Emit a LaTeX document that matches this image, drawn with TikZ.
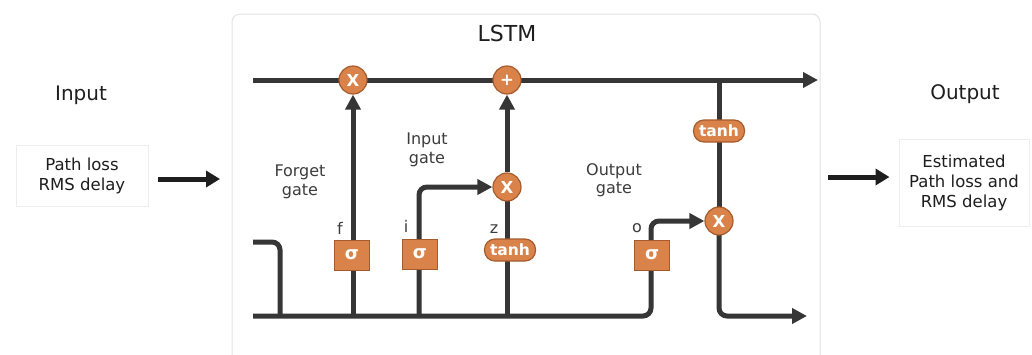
\documentclass[tikz,border=0pt]{standalone}
\usepackage{fontspec}
\setmainfont{DejaVu Sans}
\usetikzlibrary{arrows.meta,backgrounds}
\definecolor{wirec}{HTML}{363636}
\definecolor{opfill}{HTML}{D9834A}
\definecolor{opedge}{HTML}{A65B2C}
\definecolor{framec}{HTML}{E2E2E2}
\definecolor{boxc}{HTML}{EDEDED}
\definecolor{txt}{HTML}{1E1E1E}
\definecolor{gatetxt}{HTML}{3C3C3C}
\begin{document}
\begin{tikzpicture}[x=1pt,y=-1pt,
  wire/.style={line width=5pt, draw=wirec, rounded corners=8pt},
  flow/.style={wire, -{Triangle[length=15pt,width=15pt]}},
  bigarrow/.style={line width=5pt, draw=txt, -{Triangle[length=14pt,width=16pt]}},
  opnode/.style={circle, fill=opfill, draw=opedge, line width=1.2pt,
    minimum size=28pt, inner sep=0pt, text=white,
    font=\bfseries\fontsize{16.5}{16.5}\selectfont},
  signode/.style={rectangle, fill=opfill, draw=opedge, line width=1pt,
    minimum width=35pt, minimum height=30pt, inner sep=0pt, text=white,
    font=\bfseries\fontsize{18}{18}\selectfont},
  actnode/.style={rectangle, rounded corners=10.5pt, fill=opfill, draw=opedge,
    line width=1.2pt, minimum width=51pt, minimum height=22pt, inner sep=0pt,
    text=white, font=\bfseries\fontsize{15.5}{15.5}\selectfont},
  heading/.style={text=txt, font=\fontsize{20}{20}\selectfont},
  gatelabel/.style={text=gatetxt, align=center,
    font=\fontsize{16}{18.5}\selectfont},
  varlabel/.style={text=gatetxt, font=\fontsize{16}{16}\selectfont},
  iobox/.style={draw=boxc, line width=1pt, fill=white, align=center,
    text=txt, font=\fontsize{16.5}{20}\selectfont},
]
\useasboundingbox (0,0) rectangle (1032,354);

% operators on the cell state and the gates
\node[opnode] (fx) at (353,80) {X};
\node[opnode] (plus) at (507,80) {+};
\node[opnode] (ix) at (507,187) {X};
\node[opnode] (xo) at (719,221) {X};
\node[signode] (fs) at (352,255) {σ};
\node[signode] (is) at (420,254) {σ};
\node[signode] (os) at (652,255) {σ};
\node[actnode] (zt) at (510,250) {tanh};
\node[actnode] (ct) at (719,131) {tanh};

% wire end points
\coordinate (cin) at (253,80);
\coordinate (cout) at (818,80);
\coordinate (hin) at (253,316);
\coordinate (hout) at (807,316);
\coordinate (stubtop) at (253,242);
\coordinate (stubfoot) at (280,316);
\coordinate (ffoot) at (353,316);
\coordinate (ifoot) at (419,316);
\coordinate (zfoot) at (507,316);
\coordinate (obend) at (651,221);
\coordinate (ctap) at (719,80);

\begin{pgfonlayer}{background}
  % LSTM frame
  \draw[draw=framec, line width=1pt, fill=white, rounded corners=8pt]
    (232,358) -- (232,14) -- (820,14) -- (820,358);
  % cell state
  \draw[flow] (cin) -- (cout);
  % hidden state and its branches
  \draw[wire] (stubtop) -| (stubfoot);
  \draw[flow] (hin) -| (obend) -- (xo.west);
  \draw[flow] (ffoot) -- (fx.south);
  \draw[flow] (ifoot) |- (ix.west);
  \draw[wire] (zfoot) -- (ix.center);
  \draw[flow] (ix.north) -- (plus.south);
  \draw[wire] (ctap) -- (xo.center);
  \draw[flow] (xo.center) |- (hout);
\end{pgfonlayer}

% labels
\node[text=txt, font=\fontsize{22}{22}\selectfont] (title) at (507,33) {LSTM};
\node[gatelabel] (fgl) at (300,182) {Forget\\gate};
\node[gatelabel] (igl) at (427,150) {Input\\gate};
\node[gatelabel] (ogl) at (614,180) {Output\\gate};
\node[varlabel] (fl) at (340,228) {f};
\node[varlabel] (il) at (406,226) {i};
\node[varlabel] (zl) at (494,229) {z};
\node[varlabel] (ol) at (637,228) {o};

% input and output
\node[heading] (inh) at (81,95) {Input};
\node[heading] (outh) at (965,94) {Output};
\node[iobox, minimum width=132pt, minimum height=61pt] (inbox) at (82,175.5)
  {Path loss\\RMS delay};
\node[iobox, minimum width=130pt, minimum height=87pt] (outbox) at (964,182.5)
  {Estimated\\Path loss and\\RMS delay};
\coordinate (intip) at (220,179);
\coordinate (outstart) at (828,177);
\draw[bigarrow] ([xshift=9pt]inbox.east |- intip) -- (intip);
\draw[bigarrow] (outstart) -- ([xshift=-9pt]outbox.west |- outstart);
\end{tikzpicture}
\end{document}
